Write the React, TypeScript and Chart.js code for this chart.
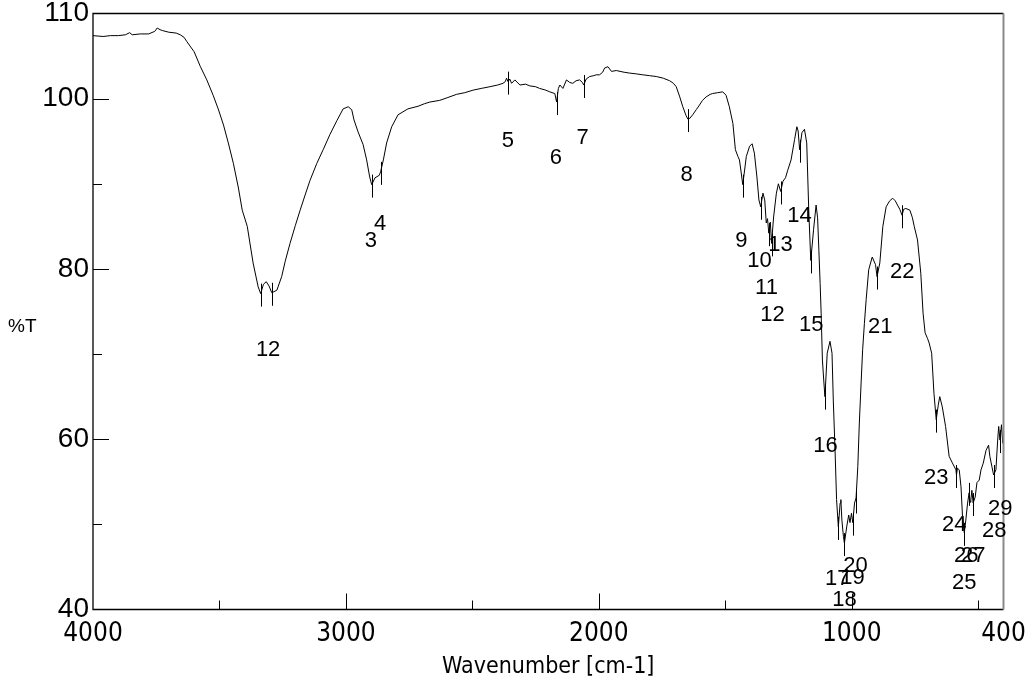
import React, { useEffect, useRef } from "react";
import { Chart, registerables } from "chart.js";

Chart.register(...registerables);

// ---- spectrum data (wavenumber cm-1, %T) ----
const wavenumbers = [
  4000, 3960, 3931, 3900, 3872, 3855, 3845, 3813, 3780, 3756, 3746, 3735, 3726, 3700, 3671, 3655, 3640, 3629,
  3600, 3576, 3550, 3525, 3505, 3484, 3465, 3445, 3425, 3410, 3390, 3367, 3347, 3337, 3326, 3315, 3304, 3293,
  3273, 3254, 3240, 3221, 3200, 3181, 3160, 3142, 3115, 3090, 3063, 3036, 3011, 2991, 2977, 2968, 2952, 2932,
  2918, 2906, 2898, 2885, 2868, 2863, 2852, 2839, 2819, 2794, 2755, 2715, 2690, 2668, 2629, 2600, 2563, 2530,
  2497, 2465, 2431, 2400, 2379, 2370, 2365, 2359, 2352, 2345, 2332, 2312, 2290, 2273, 2250, 2234, 2210, 2194,
  2174, 2167, 2160, 2154, 2142, 2128, 2115, 2103, 2090, 2076, 2065, 2060, 2050, 2036, 2020, 2010, 1997, 1985,
  1977, 1964, 1950, 1931, 1900, 1878, 1850, 1826, 1800, 1773, 1745, 1720, 1705, 1694, 1681, 1668, 1655, 1648,
  1640, 1629, 1615, 1602, 1590, 1576, 1560, 1550, 1530, 1510, 1497, 1484, 1470, 1460, 1450, 1444, 1438, 1431,
  1424, 1417, 1404, 1394, 1385, 1375, 1367, 1360, 1351, 1344, 1338, 1333, 1328, 1322, 1317, 1309, 1298, 1290,
  1281, 1272, 1262, 1253, 1240, 1226, 1217, 1212, 1206, 1197, 1187, 1178, 1170, 1162, 1151, 1141, 1135, 1130,
  1125, 1121, 1116, 1110, 1106, 1097, 1086, 1078, 1073, 1066, 1060, 1053, 1046, 1043, 1039, 1033, 1029, 1020,
  1012, 1007, 1001, 996, 989, 983, 976, 970, 963, 957, 950, 943, 933, 919, 906, 900, 889, 877, 864, 850, 838,
  828, 819, 810, 801, 795, 786, 770, 760, 753, 740, 727, 718, 710, 700, 694, 684, 675, 666, 658, 652, 642, 629,
  615, 602, 588, 586, 582, 575, 568, 562, 555, 549, 542, 536, 532, 529, 525, 520, 512, 505, 496, 489, 480, 469,
  459, 454, 446, 439, 430, 423, 419, 414, 408, 403,
];
const transmittance = [
  107.4, 107.3, 107.4, 107.4, 107.5, 107.75, 107.5, 107.6, 107.6, 107.9, 108.3, 108.1, 108.0, 107.8, 107.7, 107.5, 107.2, 106.7,
  105.5, 103.8, 102.2, 100.4, 98.8, 96.9, 94.8, 92.4, 89.5, 86.9, 85.0, 80.7, 77.9, 77.1, 78.2, 78.5, 78.0, 77.2,
  77.5, 79.1, 80.9, 83.0, 85.1, 86.9, 88.8, 90.4, 92.4, 94.0, 95.8, 97.4, 98.8, 99.05, 98.7, 97.5, 96.1, 94.6,
  92.8, 90.8, 89.9, 90.7, 91.0, 91.4, 92.8, 94.8, 96.7, 98.1, 98.8, 99.1, 99.4, 99.6, 99.8, 100.1, 100.5, 100.7,
  101.0, 101.2, 101.4, 101.6, 101.8, 102.0, 102.4, 102.0, 102.3, 101.8, 102.2, 101.6, 101.7, 101.5, 101.4, 101.2, 101.0, 100.8,
  100.6, 99.6, 101.2, 101.6, 101.2, 102.2, 101.9, 101.8, 102.1, 102.2, 101.9, 101.6, 102.3, 102.6, 102.7, 102.8, 102.8, 103.1,
  103.6, 103.75, 103.2, 103.3, 103.1, 103.0, 102.9, 102.8, 102.7, 102.6, 102.4, 102.1, 101.8, 101.4, 100.3, 99.05, 98.0, 97.6,
  97.7, 98.1, 98.7, 99.25, 99.8, 100.2, 100.5, 100.6, 100.7, 100.8, 100.4, 99.05, 97.1, 94.0, 93.2, 92.8, 91.5, 89.9,
  91.5, 93.2, 94.4, 94.7, 93.6, 90.8, 88.1, 87.3, 88.9, 88.1, 85.4, 85.9, 84.2, 85.5, 83.0, 86.1, 88.9, 90.0,
  89.1, 90.3, 90.7, 91.6, 92.8, 95.2, 96.7, 96.2, 94.0, 96.0, 96.4, 94.8, 86.9, 81.0, 84.6, 87.5, 86.0, 82.2,
  78.3, 74.8, 69.3, 66.6, 65.0, 70.1, 71.5, 70.1, 64.6, 58.7, 52.9, 49.7, 52.5, 52.9, 50.5, 48.6, 47.8, 49.7,
  51.1, 50.2, 51.3, 50.2, 52.5, 53.1, 56.8, 61.9, 66.6, 70.5, 73.6, 76.4, 79.9, 81.4, 80.5, 79.1, 80.7, 85.0, 87.3, 88.0, 88.3,
  88.0, 87.5, 87.0, 86.3, 87.0, 87.1, 86.9, 86.0, 85.0, 83.4, 79.5, 74.8, 72.5, 71.8, 71.3, 70.1, 65.4, 62.3, 64.0, 65.0, 63.8, 61.5,
  58.0, 57.2, 56.4, 55.8, 56.6, 56.4, 54.4, 50.9, 49.0, 50.5, 52.5, 53.7, 52.6, 52.9, 54.0, 52.5, 53.2, 54.9, 55.2, 56.4, 57.2, 58.7,
  59.3, 58.0, 56.8, 55.8, 56.4, 59.9, 61.5, 59.9, 61.7, 59.5,
];

// ---- axis ticks ----
const xTickValues = [4000, 3500, 3000, 2500, 2000, 1500, 1000, 500, 400];
const xLabelledTicks = [4000, 3000, 2000, 1000, 400];
const yTickValues = [40, 50, 60, 70, 80, 90, 100, 110];
const yLabelledTicks = [40, 60, 80, 100, 110];

// ---- peak picks ----
const peakNumbers = [
  "1", "2", "3", "4", "5", "6", "7", "8", "9", "10", "11", "12", "13", "14", "15",
  "16", "17", "18", "19", "20", "21", "22", "23", "24", "25", "26", "27", "28", "29",
];
const peakWavenumbers = [
  3337, 3293, 2898, 2863, 2359, 2167, 2060, 1648, 1431, 1360, 1328, 1317, 1281, 1206, 1162,
  1106, 1053, 1029, 996, 985, 900, 801, 666, 586, 555, 536, 520, 439, 414,
];
const peakTransmittance = [
  77.1, 77.2, 89.9, 91.4, 102.0, 99.6, 101.6, 97.6, 89.9, 87.3, 84.2, 83.0, 89.1, 94.0, 81.0,
  65.0, 49.7, 47.8, 50.2, 52.8, 79.1, 86.3, 62.3, 55.8, 49.0, 53.7, 52.5, 55.8, 59.9,
];
const labelWavenumbers = [
  3331, 3284, 2901, 2865, 2360, 2170, 2064, 1653, 1436, 1365, 1337, 1313, 1282, 1207, 1160,
  1104, 1057, 1029, 997, 985, 887, 800, 666, 595, 555, 547, 520, 437, 413,
];
const labelTransmittance = [
  70.5, 70.5, 83.3, 85.3, 95.0, 93.0, 95.4, 91.0, 83.3, 80.9, 77.8, 74.6, 82.8, 86.2, 73.4,
  59.2, 43.6, 41.1, 43.7, 45.1, 73.2, 79.6, 55.4, 49.9, 43.1, 46.3, 46.3, 49.2, 51.8,
];

const yTitle = "%T";
const xTitle = "Wavenumber [cm-1]";

const SANS = "'Liberation Sans', Arial, sans-serif";
const NARROW = "'Liberation Sans Narrow', 'DejaVu Sans Condensed', sans-serif";

const decorPlugin = {
  id: "decor",
  afterDraw(chart: any) {
    const { ctx, chartArea: a, scales } = chart;
    const x = scales.x;
    const y = scales.y;
    ctx.save();

    // frame
    ctx.strokeStyle = "#000";
    ctx.lineWidth = 1.3;
    ctx.beginPath();
    ctx.moveTo(a.right, a.top);
    ctx.lineTo(a.left, a.top);
    ctx.lineTo(a.left, a.bottom);
    ctx.lineTo(a.right, a.bottom);
    ctx.stroke();
    ctx.strokeStyle = "#8a8a8a";
    ctx.lineWidth = 2;
    ctx.beginPath();
    ctx.moveTo(a.right, a.top);
    ctx.lineTo(a.right, a.bottom);
    ctx.stroke();

    // inward tick marks
    ctx.strokeStyle = "#000";
    ctx.lineWidth = 1;
    ctx.beginPath();
    xTickValues.forEach((v) => {
      if (v === 4000 || v === 400) return;
      const px = Math.round(x.getPixelForValue(v)) + 0.5;
      const len = xLabelledTicks.includes(v) ? 16 : 9;
      ctx.moveTo(px, a.bottom);
      ctx.lineTo(px, a.bottom - len);
    });
    yTickValues.forEach((v) => {
      if (v === 40 || v === 110) return;
      const py = Math.round(y.getPixelForValue(v)) + 0.5;
      const len = yLabelledTicks.includes(v) ? 16 : 9;
      ctx.moveTo(a.left, py);
      ctx.lineTo(a.left + len, py);
    });
    ctx.stroke();

    // peak markers
    ctx.beginPath();
    peakWavenumbers.forEach((w, i) => {
      const px = Math.round(x.getPixelForValue(w)) + 0.5;
      const py = y.getPixelForValue(peakTransmittance[i]);
      ctx.moveTo(px, py - 10);
      ctx.lineTo(px, py + 13);
    });
    ctx.stroke();

    // peak labels
    ctx.fillStyle = "#000";
    ctx.font = `22px ${SANS}`;
    ctx.textAlign = "center";
    ctx.textBaseline = "middle";
    peakNumbers.forEach((t, i) => {
      ctx.fillText(t, x.getPixelForValue(labelWavenumbers[i]), y.getPixelForValue(labelTransmittance[i]));
    });

    // horizontal y title
    ctx.font = `19px ${SANS}`;
    ctx.textAlign = "left";
    ctx.fillText(yTitle, 8, y.getPixelForValue(73.2));
    ctx.restore();
  },
};

export default function App() {
  const ref = useRef<HTMLCanvasElement | null>(null);
  useEffect(() => {
    if (!ref.current) return;
    const points = wavenumbers.map((w, i) => ({ x: w, y: transmittance[i] }));
    const chart = new Chart(ref.current, {
      type: "scatter",
      data: {
        datasets: [
          {
            data: points,
            showLine: true,
            borderColor: "#000",
            borderWidth: 1,
            pointRadius: 0,
            tension: 0,
            fill: false,
          },
        ],
      },
      options: {
        responsive: false,
        animation: false,
        devicePixelRatio: 1,
        layout: { padding: { top: 13.5, right: 31.5, left: 0, bottom: 0 } },
        plugins: { legend: { display: false }, tooltip: { enabled: false } },
        scales: {
          x: {
            type: "linear",
            reverse: true,
            min: 400,
            max: 4000,
            afterBuildTicks: (s: any) => {
              s.ticks = xTickValues.map((v) => ({ value: v }));
            },
            afterFit: (s: any) => {
              s.height = 83.5;
              s.paddingLeft = 0;
              s.paddingRight = 0;
            },
            grid: { display: false, drawTicks: false },
            border: { display: false },
            ticks: {
              autoSkip: false,
              maxRotation: 0,
              padding: 9,
              color: "#000",
              font: { family: NARROW, size: 26 },
              callback: (v: any) => (xLabelledTicks.includes(Number(v)) ? String(v) : ""),
            },
            title: {
              display: true,
              text: xTitle,
              color: "#000",
              font: { family: NARROW, size: 23 },
              padding: { top: 0, bottom: 12 },
            },
          },
          y: {
            type: "linear",
            min: 40,
            max: 110,
            afterBuildTicks: (s: any) => {
              s.ticks = yTickValues.map((v) => ({ value: v }));
            },
            afterFit: (s: any) => {
              s.width = 93;
              s.paddingTop = 0;
              s.paddingBottom = 0;
            },
            grid: { display: false, drawTicks: false },
            border: { display: false },
            ticks: {
              autoSkip: false,
              padding: 4,
              color: "#000",
              font: { family: SANS, size: 28 },
              callback: (v: any) => (yLabelledTicks.includes(Number(v)) ? String(v) : ""),
            },
          },
        },
      },
      plugins: [decorPlugin],
    });
    return () => chart.destroy();
  }, []);
  return (
    <div style={{ position: "fixed", left: 0, top: 0, width: 1035, height: 693, background: "#fff" }}>
      <canvas ref={ref} width={1035} height={693} />
    </div>
  );
}
